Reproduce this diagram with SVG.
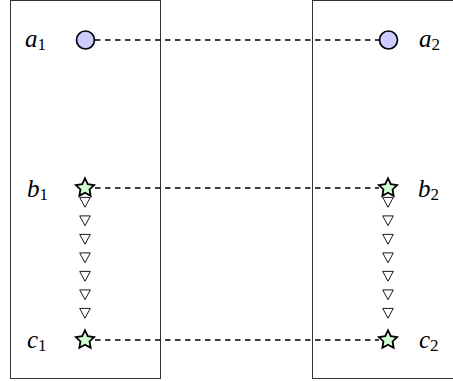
<svg xmlns="http://www.w3.org/2000/svg" xmlns:xlink="http://www.w3.org/1999/xlink" width="453" height="381" viewBox="0 0 453 381">
<style>
.box{fill:none;stroke:#333;stroke-width:1}
.dash{fill:none;stroke:#000;stroke-width:1.6;stroke-dasharray:5.5 4.5}
.circ{fill:#ccccff;stroke:#000;stroke-width:1.7}
.star{fill:#ccffcc;stroke:#000;stroke-width:1.8;stroke-linejoin:miter}
.tri{fill:#fff;stroke:#000;stroke-width:0.9}
.lbl{font-family:"Liberation Serif","Times New Roman",serif;font-style:italic;font-size:25px;fill:#000}
.sub{font-style:normal;font-size:17px}
</style>
<defs>
<path id="tri" class="tri" d="M-5.3,-4.6 L5.3,-4.6 L0,5.2 Z"/>
<path id="star" d="M0,-9.6 L2.82,-3.88 L9.13,-2.97 L4.57,1.48 L5.64,7.77 L0,4.8 L-5.64,7.77 L-4.57,1.48 L-9.13,-2.97 L-2.82,-3.88 Z"/>
</defs>
<g id="group1"><rect class="box" x="10.5" y="0.5" width="150" height="378"/></g>
<g id="group2"><rect class="box" x="312.5" y="0.5" width="150" height="378"/></g>
<g id="connectors">
<line class="dash" x1="95" y1="40" x2="379" y2="40"/>
<line class="dash" x1="95" y1="188" x2="379" y2="188"/>
<line class="dash" x1="95" y1="340" x2="379" y2="340"/>
<g id="b1-c1">
<use xlink:href="#tri" x="85" y="202"/>
<use xlink:href="#tri" x="85" y="220.5"/>
<use xlink:href="#tri" x="85" y="239"/>
<use xlink:href="#tri" x="85" y="257.5"/>
<use xlink:href="#tri" x="85" y="276"/>
<use xlink:href="#tri" x="85" y="294.5"/>
<use xlink:href="#tri" x="85" y="313"/>
</g>
<g id="b2-c2">
<use xlink:href="#tri" x="388" y="202"/>
<use xlink:href="#tri" x="388" y="220.5"/>
<use xlink:href="#tri" x="388" y="239"/>
<use xlink:href="#tri" x="388" y="257.5"/>
<use xlink:href="#tri" x="388" y="276"/>
<use xlink:href="#tri" x="388" y="294.5"/>
<use xlink:href="#tri" x="388" y="313"/>
</g>
</g>
<g id="a1"><circle class="circ" cx="85.5" cy="40" r="9"/><text class="lbl" x="25" y="47">a<tspan class="sub" dy="3">1</tspan></text></g>
<g id="a2"><circle class="circ" cx="388.5" cy="40" r="9"/><text class="lbl" x="419" y="47">a<tspan class="sub" dy="3">2</tspan></text></g>
<g id="b1"><use class="star" xlink:href="#star" x="85" y="188"/><text class="lbl" x="27" y="197">b<tspan class="sub" dy="3">1</tspan></text></g>
<g id="b2"><use class="star" xlink:href="#star" x="388" y="188"/><text class="lbl" x="418" y="197">b<tspan class="sub" dy="3">2</tspan></text></g>
<g id="c1"><use class="star" xlink:href="#star" x="85" y="340"/><text class="lbl" x="27" y="348">c<tspan class="sub" dy="3">1</tspan></text></g>
<g id="c2"><use class="star" xlink:href="#star" x="388" y="340"/><text class="lbl" x="419" y="348">c<tspan class="sub" dy="3">2</tspan></text></g>
</svg>
